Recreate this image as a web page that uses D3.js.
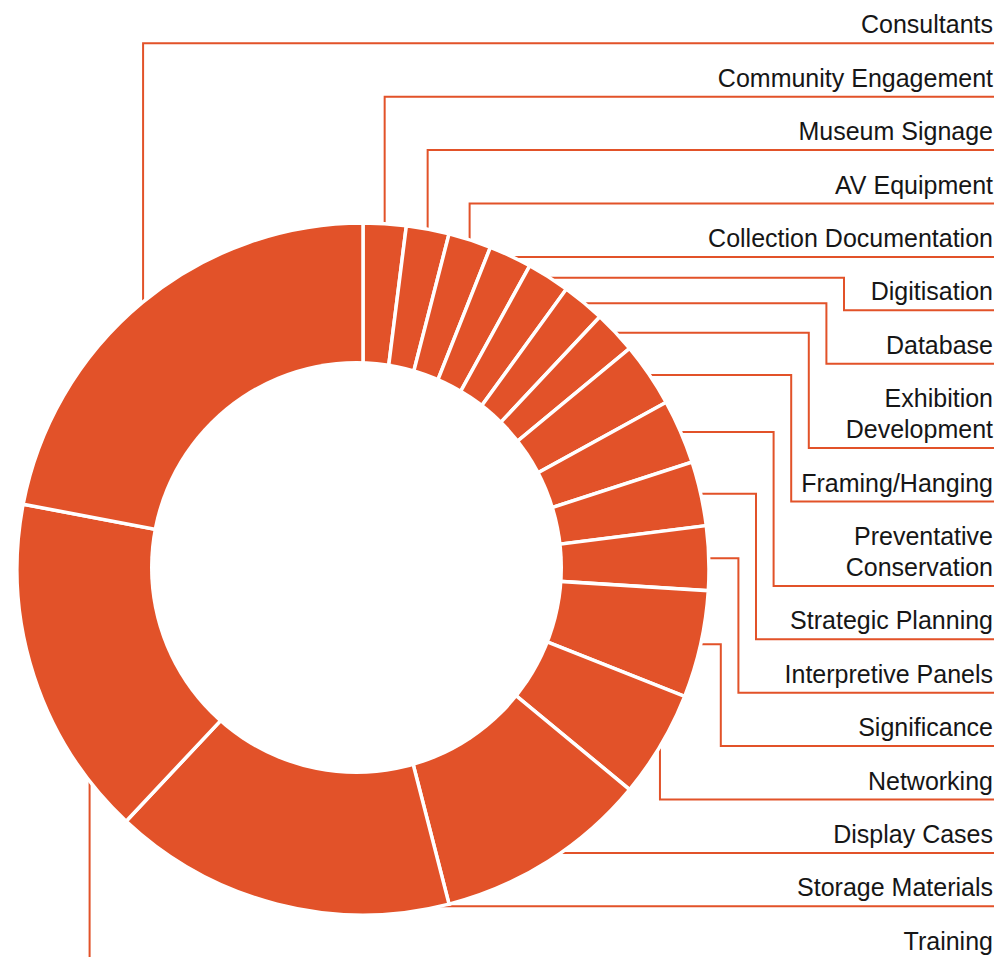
<!DOCTYPE html>
<html>
<head>
<meta charset="utf-8">
<script src="https://cdn.jsdelivr.net/npm/d3@7"></script>
<style>
  body { margin: 0; background: #fff; }
  text { font-family: "Liberation Sans", Arial, sans-serif; font-size: 25px; fill: #161616; }
</style>
</head>
<body>
<script>
// budget share by category, clockwise from 12 o'clock (percent)
let categories = ['Community Engagement', 'Museum Signage', 'AV Equipment', 'Collection Documentation',
    'Digitisation', 'Database', 'Exhibition\nDevelopment', 'Framing/Hanging', 'Preventative\nConservation',
    'Strategic Planning', 'Interpretive Panels', 'Significance', 'Networking', 'Display Cases',
    'Storage Materials', 'Training', 'Consultants'];
let values = [2, 2, 2, 2, 2, 2, 2, 3, 3, 3, 3, 5, 5, 10, 16, 16, 22];

let width = 998, height = 957;
let cx = 363, cy = 569, outerR = 346;
let hole = {x: 356.5, y: 567.5, r: 206.5};
let colour = '#e25229';
let labelRight = 993, lineRight = 994;
let firstBaseline = 33.3, rowStep = 53.4, lineHeight = 31, underlineGap = 10;

let svg = d3.select('body').append('svg')
    .attr('width', width)
    .attr('height', height);

let data = categories.map((c, i) => ({label: c, value: values[i]}));

let pie = d3.pie().sort(null).value(d => d.value);
let arcs = pie(data);

let arc = d3.arc().innerRadius(0).outerRadius(outerR);

let mid = d => (d.startAngle + d.endAngle) / 2;
// Training's leader drops from near the start of its slice
let anchorAngle = d => d.data.label === 'Training'
    ? d.startAngle + (d.endAngle - d.startAngle) * 0.16
    : mid(d);
let pointAt = (a, r) => [cx + r * Math.sin(a), cy - r * Math.cos(a)];

// label order: start at the top-left slice and go clockwise
let labelled = arcs.slice().sort((a, b) => {
    let ka = (mid(a) * 180 / Math.PI + 60) % 360;
    let kb = (mid(b) * 180 / Math.PI + 60) % 360;
    return ka - kb;
});

let baseline = firstBaseline - rowStep;
labelled.forEach(d => {
    let lines = d.data.label.split('\n');
    d.firstBaseline = baseline + rowStep;
    baseline = d.firstBaseline + (lines.length - 1) * lineHeight;
    d.lineY = baseline + underlineGap;
    d.lines = lines;
});

// leader lines (drawn under the ring)
let elbowCount = 0;
function leader(d) {
    let a = anchorAngle(d);
    let deg = a * 180 / Math.PI;
    let [ax, ay] = pointAt(a, outerR - 1);
    let y = d.lineY;
    if (deg > 270 || deg < 22) return `M${ax},${ay}V${y}H${lineRight}`;
    if (deg < 105) {
        if (Math.abs(ay - y) < 4) return `M${ax},${y}H${lineRight}`;
        let ex = 844 - 17.6 * elbowCount++;
        return `M${ax},${ay}H${ex}V${y}H${lineRight}`;
    }
    if (deg < 130 || deg > 230) return `M${ax},${ay}V${y}H${lineRight}`;
    return `M${cx},${y}H${lineRight}`;
}

svg.append('g')
    .selectAll('path')
    .data(labelled)
    .join('path')
    .attr('d', leader)
    .attr('fill', 'none')
    .attr('stroke', colour)
    .attr('stroke-width', 2);

let g = svg.append('g')
    .attr('transform', `translate(${cx}, ${cy})`);

g.selectAll('.slice')
    .data(arcs)
    .join('path')
    .attr('class', 'slice')
    .attr('d', arc)
    .attr('fill', colour)
    .attr('stroke', '#fff')
    .attr('stroke-width', 3.5)
    .attr('stroke-linejoin', 'miter');

svg.append('circle')
    .attr('cx', hole.x)
    .attr('cy', hole.y)
    .attr('r', hole.r)
    .attr('fill', '#fff');

let labels = svg.append('g')
    .selectAll('text')
    .data(labelled)
    .join('text')
    .attr('text-anchor', 'end');

labels.selectAll('tspan')
    .data(d => d.lines.map((l, i) => ({text: l, y: d.firstBaseline + i * lineHeight})))
    .join('tspan')
    .attr('x', labelRight)
    .attr('y', t => t.y)
    .text(t => t.text);
</script>
</body>
</html>
